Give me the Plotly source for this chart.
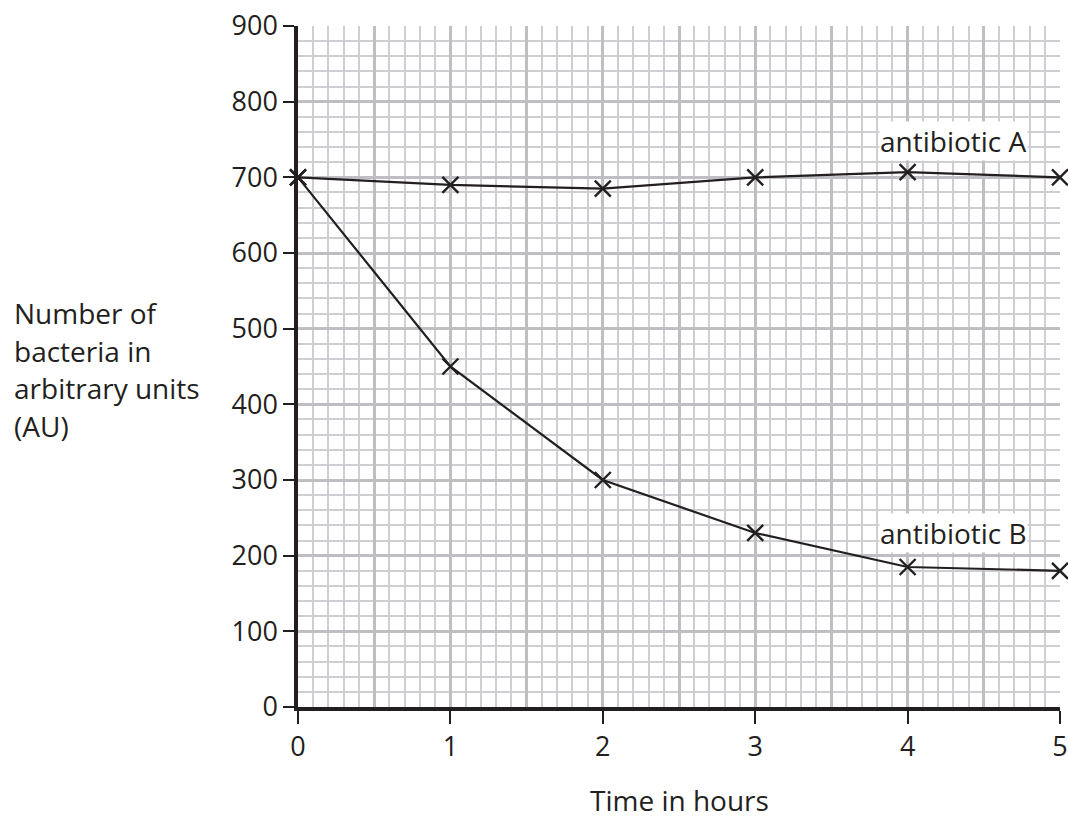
import plotly.graph_objects as go

hours = [0, 1, 2, 3, 4, 5]
antibiotic_a = [700, 690, 685, 700, 707, 700]
antibiotic_b = [700, 450, 300, 230, 185, 180]
x_ticks = [0, 1, 2, 3, 4, 5]
y_ticks = [0, 100, 200, 300, 400, 500, 600, 700, 800, 900]
half_hour_lines = [0.5, 1.5, 2.5, 3.5, 4.5]
y_title_lines = ["Number of", "bacteria in", "arbitrary units", "(AU)"]
series_labels = [("antibiotic A", 4.30, 748), ("antibiotic B", 4.30, 230)]

FONT = "Open Sans, Lato, sans-serif"
INK = "#231f20"
MINOR = "#cfcfd3"
MAJOR = "#bfbfc3"

W, H = 1068, 820
ML, MR, MT, MB = 298, 8, 26, 113
PH = H - MT - MB

fig = go.Figure()
for ys in (antibiotic_a, antibiotic_b):
    fig.add_trace(go.Scatter(
        x=hours, y=ys, mode="lines+markers",
        line=dict(color=INK, width=2.2),
        marker=dict(symbol="x-thin", size=16, line=dict(color=INK, width=2.4)),
        cliponaxis=False, showlegend=False, hoverinfo="skip"))

# invisible trace for the overlay axis carrying the half-hour major grid lines
fig.add_trace(go.Scatter(x=[0, 5], y=[0, 900], xaxis="x2", mode="markers",
                         marker=dict(opacity=0), showlegend=False, hoverinfo="skip"))

fig.update_layout(
    width=W, height=H, autosize=False,
    margin=dict(l=ML, r=MR, t=MT, b=MB, autoexpand=False),
    paper_bgcolor="white", plot_bgcolor="white",
    font=dict(family=FONT, size=27, color=INK),
    xaxis=dict(range=[0, 5], tickvals=x_ticks, ticks="outside", ticklen=13,
               tickwidth=2, tickcolor=INK, showline=True, linewidth=3.5,
               linecolor=INK, showgrid=True, gridcolor=MAJOR, gridwidth=3,
               zeroline=False, tickfont=dict(size=27, color=INK), automargin=False,
               minor=dict(dtick=0.1, showgrid=True, gridcolor=MINOR, gridwidth=1.5)),
    xaxis2=dict(range=[0, 5], overlaying="x", tickvals=half_hour_lines,
                showticklabels=False, ticks="", showgrid=True, gridcolor=MAJOR,
                gridwidth=3, zeroline=False, showline=False, side="bottom",
                automargin=False),
    yaxis=dict(range=[0, 900], tickvals=y_ticks, ticks="outside", ticklen=11,
               tickwidth=2, tickcolor=INK, showline=True, linewidth=3.5,
               linecolor=INK, showgrid=True, gridcolor=MAJOR, gridwidth=3,
               zeroline=False, tickfont=dict(size=27, color=INK), automargin=False,
               minor=dict(dtick=20, showgrid=True, gridcolor=MINOR, gridwidth=1.5)),
)

for text, xv, yv in series_labels:
    fig.add_annotation(x=xv, y=yv, text=text, showarrow=False,
                       bgcolor="white", font=dict(size=28, color=INK),
                       borderpad=0)

for i, line in enumerate(y_title_lines):
    ypix = 313 + i * 37.5
    fig.add_annotation(xref="paper", yref="paper", x=(12 - ML) / (W - ML - MR),
                       xanchor="left", y=(H - MB - ypix) / PH, yanchor="middle",
                       text=line, showarrow=False, align="left",
                       font=dict(size=28, color=INK))

fig.add_annotation(xref="paper", yref="paper", x=0.5, y=(H - MB - 800) / PH,
                   yanchor="middle", text="Time in hours", showarrow=False,
                   font=dict(size=28, color=INK))

fig.write_html("out.html",
               config={"displayModeBar": False, "responsive": False},
               default_width="1068px", default_height="820px",
               post_script="document.body.style.margin='0';")
